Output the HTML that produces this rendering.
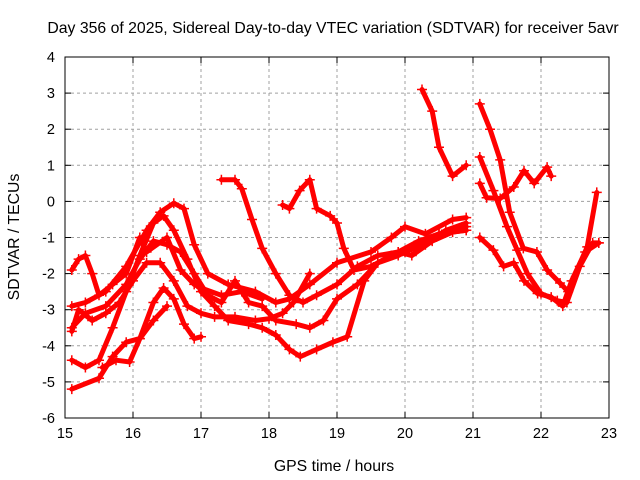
<!DOCTYPE html>
<html><head><meta charset="utf-8"><style>
body{margin:0;background:#fff}
svg{display:block;font-family:"Liberation Sans",sans-serif}
</style></head><body>
<svg id="chart" width="640" height="480" viewBox="0 0 640 480" xmlns="http://www.w3.org/2000/svg">
<rect width="640" height="480" fill="#fff"/>
<text x="333" y="33" font-size="15.8" text-anchor="middle">Day 356 of 2025, Sidereal Day-to-day VTEC variation (SDTVAR) for receiver 5avr</text>
<text x="334" y="471" font-size="15.8" text-anchor="middle">GPS time / hours</text>
<text x="19" y="237" font-size="15.8" text-anchor="middle" transform="rotate(-90 19 237)">SDTVAR / TECUs</text>
<g id="grid"></g><g id="series"></g><g id="axes"></g>
</svg>
<script>
const xTicks=[15,16,17,18,19,20,21,22,23];
const yTicks=[4,3,2,1,0,-1,-2,-3,-4,-5,-6];
const track1=[[15.1,-5.2],[15.5,-4.9],[15.7,-4.3],[15.9,-3.9],[16.1,-3.8],[16.3,-2.8],[16.45,-2.4],[16.6,-2.7],[16.75,-3.4],[16.9,-3.8],[17.0,-3.75]];
const track2=[[15.55,-4.6],[15.75,-4.4],[15.95,-4.45],[16.1,-3.8],[16.3,-3.3],[16.5,-2.9]];
const track3=[[15.1,-4.4],[15.3,-4.6],[15.5,-4.4],[15.7,-3.5],[15.9,-2.5],[16.1,-1.5],[16.3,-0.6],[16.45,-0.4],[16.6,-0.8],[16.8,-1.6],[17.0,-2.5],[17.2,-2.9],[17.4,-3.3],[17.7,-3.4],[17.9,-3.5],[18.1,-3.7],[18.3,-4.1],[18.46,-4.3],[18.7,-4.1],[18.94,-3.9],[19.15,-3.75],[19.4,-2.2],[19.6,-1.7],[19.9,-1.5],[20.2,-1.2],[20.5,-0.9],[20.9,-0.8]];
const track4=[[15.1,-2.9],[15.3,-2.8],[15.6,-2.5],[15.9,-1.8],[16.2,-0.8],[16.4,-0.3],[16.6,-0.05],[16.75,-0.2],[16.9,-1.2],[17.1,-2.0],[17.4,-2.3],[17.8,-2.5],[18.1,-2.8],[18.3,-2.7],[18.6,-2.3],[19.0,-1.7],[19.5,-1.4],[19.8,-1.0],[20.0,-0.7],[20.3,-0.9],[20.7,-0.5],[20.9,-0.45]];
const track5=[[15.1,-3.5],[15.3,-3.1],[15.6,-2.9],[15.9,-2.3],[16.1,-1.6],[16.3,-1.1],[16.5,-1.2],[16.7,-1.4],[16.9,-2.0],[17.1,-2.6],[17.3,-2.8],[17.5,-2.2],[17.7,-2.8],[17.9,-2.9],[18.1,-3.3],[18.4,-3.4],[18.6,-3.5],[18.8,-3.3],[19.0,-2.7],[19.3,-2.3],[19.6,-1.7],[19.9,-1.4],[20.1,-1.5],[20.4,-1.1],[20.7,-0.85],[20.9,-0.7]];
const track6=[[17.3,0.6],[17.5,0.6],[17.6,0.35],[17.75,-0.5],[17.9,-1.3],[18.1,-2.0],[18.3,-2.6],[18.5,-2.8],[18.7,-2.6],[19.0,-2.3],[19.3,-1.8],[19.6,-1.5],[19.9,-1.4],[20.2,-1.1],[20.5,-0.9],[20.9,-0.8]];
const track7=[[18.2,-0.1],[18.3,-0.2],[18.45,0.3],[18.6,0.6],[18.7,-0.2],[18.9,-0.4],[19.0,-0.6],[19.1,-1.3],[19.25,-1.9],[19.5,-1.8],[19.8,-1.5],[20.0,-1.4],[20.3,-1.2],[20.6,-0.8],[20.9,-0.6]];
const track8=[[20.25,3.1],[20.4,2.5],[20.5,1.5],[20.7,0.7],[20.9,1.0]];
const track9=[[15.1,-1.9],[15.2,-1.6],[15.3,-1.5],[15.4,-2.0],[15.5,-2.6],[15.7,-2.3],[15.9,-2.0],[16.1,-1.0],[16.2,-1.4],[16.5,-1.0],[16.7,-1.9],[16.9,-2.3],[17.0,-2.4],[17.3,-2.6],[17.6,-2.5],[17.9,-2.7]];
const track10=[[15.1,-3.6],[15.2,-3.0],[15.4,-3.3],[15.6,-3.1],[15.8,-2.8],[16.0,-2.2],[16.2,-1.7],[16.4,-1.7],[16.6,-2.2],[16.8,-2.9],[17.0,-3.1],[17.2,-3.2],[17.5,-3.2],[17.8,-3.3],[18.0,-3.25],[18.2,-3.1],[18.36,-2.8],[18.6,-2.0]];
const track11=[[21.1,2.7],[21.25,2.0],[21.4,1.15],[21.54,-0.3],[21.74,-1.3],[21.94,-1.4],[22.09,-1.9],[22.28,-2.26],[22.4,-2.5],[22.68,-1.26],[22.82,0.25]];
const track12=[[21.1,1.23],[21.3,0.3],[21.5,-0.7],[21.65,-1.35],[21.8,-2.0],[22.0,-2.55],[22.24,-2.75],[22.38,-2.8],[22.57,-1.8],[22.76,-1.15],[22.85,-1.15]];
const track13=[[21.1,0.5],[21.2,0.1],[21.4,0.08],[21.6,0.4],[21.75,0.85],[21.9,0.5],[22.09,0.95],[22.15,0.7]];
const track14=[[21.1,-1.0],[21.3,-1.35],[21.45,-1.8],[21.6,-1.7],[21.75,-2.2],[21.95,-2.55],[22.15,-2.65],[22.32,-2.9],[22.45,-2.2],[22.65,-1.4],[22.85,-1.15]];
const tracks=[track1,track2,track3,track4,track5,track6,track7,track8,track9,track10,track11,track12,track13,track14];
const X0=65,X1=609,Y0=57,Y1=418;
function sx(t){return X0+(t-15)/(23-15)*(X1-X0);}
function sy(v){return Y0+(4-v)/(4-(-6))*(Y1-Y0);}
const NS="http://www.w3.org/2000/svg";
function mk(tag,attrs,parent){const e=document.createElementNS(NS,tag);for(const k in attrs)e.setAttribute(k,attrs[k]);parent.appendChild(e);return e;}
const grid=document.getElementById('grid'),axes=document.getElementById('axes'),ser=document.getElementById('series');
xTicks.forEach(t=>{
  const x=sx(t);
  if(t>15&&t<23){const g=mk('line',{x1:x,y1:Y0,x2:x,y2:Y1,stroke:'#a0a0a0','stroke-dasharray':'3,3','stroke-width':1},grid);
  
  }
  mk('line',{x1:x,y1:Y1,x2:x,y2:Y1-6,stroke:'#000'},axes);
  mk('line',{x1:x,y1:Y0,x2:x,y2:Y0+6,stroke:'#000'},axes);
  const l=mk('text',{x:x,y:Y1+20,'font-size':14.5,'text-anchor':'middle'},axes);
  l.textContent=t;
  
  
});
yTicks.forEach(v=>{
  const y=sy(v);
  if(v<4&&v>-6){const g=mk('line',{x1:X0,y1:y,x2:X1,y2:y,stroke:'#a0a0a0','stroke-dasharray':'3,3','stroke-width':1},grid);
  
  }
  mk('line',{x1:X0,y1:y,x2:X0+6,y2:y,stroke:'#000'},axes);
  mk('line',{x1:X1,y1:y,x2:X1-6,y2:y,stroke:'#000'},axes);
  const l=mk('text',{x:X0-10,y:y+5,'font-size':14.5,'text-anchor':'end'},axes);
  l.textContent=v;
  
  
});
const fr=mk('rect',{x:X0,y:Y0,width:X1-X0,height:Y1-Y0,fill:'none',stroke:'#000','stroke-width':1},axes);


tracks.forEach((tr,i)=>{
  const g=mk('g',{},ser);
  
  
  const pts=tr.map(p=>sx(p[0]).toFixed(1)+','+sy(p[1]).toFixed(1)).join(' ');
  mk('polyline',{points:pts,fill:'none',stroke:'#ff0000','stroke-width':5,'stroke-linejoin':'round','stroke-linecap':'round'},g);
  tr.forEach(p=>{
    const x=sx(p[0]),y=sy(p[1]);
    mk('path',{d:`M${x-5},${y}H${x+5}M${x},${y-5}V${y+5}`,stroke:'#ff0000','stroke-width':1.5},g);
  });
});
</script>
</body></html>
